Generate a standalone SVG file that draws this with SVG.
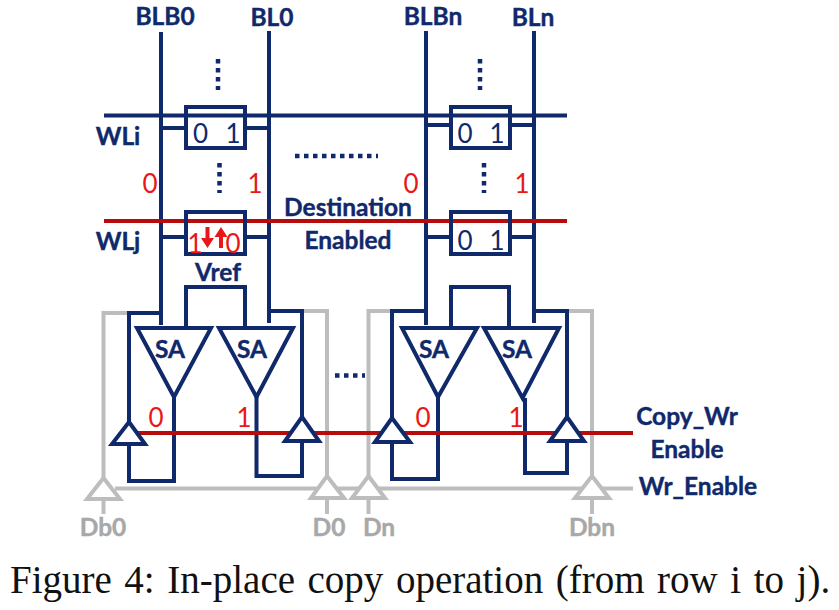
<svg xmlns="http://www.w3.org/2000/svg" width="839" height="610" viewBox="0 0 839 610">
<defs>
<style>
.n{fill:none;stroke:#10296a;stroke-width:4;stroke-linejoin:miter}
.c{fill:#fff;stroke:#10296a;stroke-width:4}
.g{fill:none;stroke:#bdbdbd;stroke-width:4}
.gt{fill:#fff;stroke:#bdbdbd;stroke-width:4}
.r{fill:none;stroke:#b80c0c;stroke-width:4}
.d{fill:none;stroke:#10296a;stroke-width:4.5;stroke-dasharray:4.5 4.5}
text{font-family:"Lato","Liberation Sans",sans-serif;text-anchor:middle}
.b{font-weight:700;font-size:24.500px;fill:#10296a;stroke:#10296a;stroke-width:.4}
.gl{font-weight:700;font-size:24.500px;fill:#a8a8a8;stroke:#a8a8a8;stroke-width:.4}
.v{font-size:26px;fill:#10296a}
.rd{font-size:26px;fill:#e81818}
.cap{font-family:"Liberation Serif",serif;font-size:39px;word-spacing:2.800px;fill:#111;text-anchor:start;stroke:none}
</style>
</defs>
<rect width="839" height="610" fill="#fff"/>
<g id="gray-connectors">
<path class="g" d="M129 313H103.500V480M103.500 499V514"/>
<path class="g" d="M302 311H327V478M327 498V514"/>
<path class="g" d="M392 311H368.500V478M368.500 498V514"/>
<path class="g" d="M567 311H592V478M592 498V514"/>
<path class="g" d="M115 488.500H633"/>
</g>
<g id="connectors">
<path class="n" d="M161 32V325M269 31V323M426 31V325M534 31V323"/>
<path class="n" d="M161 128H186M245 128H269M161 237H186M245 237H269M426 125H450M510 125H534M426 237H450M510 237H534"/>
<path class="n" d="M104 115.500H567"/>
<path class="r" d="M104 221H567"/>
<path class="n" d="M161 313H129V422M129 444V481H174V397"/>
<path class="n" d="M269 311H302V417M302 441V476H256.500V397"/>
<path class="n" d="M426 311H392V418M392 442V479H438V397"/>
<path class="n" d="M534 311H567V417M567 441V473H525V398"/>
<path class="r" d="M137 433H633"/>
<path class="n" d="M186 327V287H245V327M451 327V287H509V327"/>
</g>
<g id="cell-i-0"><path class="n" d="M186 107H245V148H186Z"/><text class="v" x="200.500" y="143">0</text><text class="v" x="233" y="143">1</text></g>
<g id="cell-j-0"><path class="n" d="M186 212H245V254H186Z"/><text class="rd" x="195" y="253">1</text><text class="rd" x="233" y="253">0</text>
<path fill="#e81818" d="M205.500 227h4v11h4.500l-6.500 10l-6.500-10h4.500Z"/><path fill="#e81818" d="M219 248h4v-11h4.500l-6.500-10l-6.500 10h4.500Z"/></g>
<g id="cell-i-n"><path class="n" d="M451 107H510V148H451Z"/><text class="v" x="465" y="143">0</text><text class="v" x="497" y="143">1</text></g>
<g id="cell-j-n"><path class="n" d="M451 212H510V254H451Z"/><text class="v" x="465" y="250">0</text><text class="v" x="497" y="250">1</text></g>
<g id="sa-1"><path class="c" d="M137 328H211L174 397Z"/><text class="b" x="170" y="358">SA</text></g>
<g id="sa-2"><path class="c" d="M219 328H293L256.500 397Z"/><text class="b" x="252" y="358">SA</text></g>
<g id="sa-3"><path class="c" d="M402 328H477L438 397Z"/><text class="b" x="434" y="358">SA</text></g>
<g id="sa-4"><path class="c" d="M484 328H559L522.500 398Z"/><text class="b" x="517" y="358">SA</text></g>
<g id="drv-1"><path class="c" d="M129 422L145 444H112Z"/></g>
<g id="drv-2"><path class="c" d="M302 417L319 441H285Z"/></g>
<g id="drv-3"><path class="c" d="M392 418L410 442H375Z"/></g>
<g id="drv-4"><path class="c" d="M567 417L584 441H550Z"/></g>
<g id="wd-1"><path class="gt" d="M103.500 478L120 499H87Z"/></g>
<g id="wd-2"><path class="gt" d="M327 476L344 498H311Z"/></g>
<g id="wd-3"><path class="gt" d="M368.500 476L385 498H352Z"/></g>
<g id="wd-4"><path class="gt" d="M592 476L609 498H575Z"/></g>
<g id="dots">
<path class="d" d="M218 59V90M219.500 163V193M480 59V90M484 163V193"/>
<path class="d" d="M295 156H378M335 375.500H365"/>
</g>
<g id="labels">
<text class="b" x="165" y="25">BLB0</text>
<text class="b" x="272" y="26">BL0</text>
<text class="b" x="433" y="25">BLBn</text>
<text class="b" x="533" y="26">BLn</text>
<text class="b" x="118" y="145">WLi</text>
<text class="b" x="118" y="250">WLj</text>
<text class="b" x="218" y="281">Vref</text>
<text class="b" x="348" y="216">Destination</text>
<text class="b" x="348" y="249">Enabled</text>
<text class="rd" x="150" y="193">0</text>
<text class="rd" x="255" y="193">1</text>
<text class="rd" x="411" y="193">0</text>
<text class="rd" x="522" y="193">1</text>
<text class="rd" x="156" y="427">0</text>
<text class="rd" x="244" y="427">1</text>
<text class="rd" x="423" y="427">0</text>
<text class="rd" x="516" y="427">1</text>
<text class="gl" x="103" y="536">Db0</text>
<text class="gl" x="329" y="536">D0</text>
<text class="gl" x="379" y="536">Dn</text>
<text class="gl" x="592" y="536">Dbn</text>
<text class="b" x="687" y="425">Copy_Wr</text>
<text class="b" x="687" y="458">Enable</text>
<text class="b" x="698" y="495">Wr_Enable</text>
<text class="cap" x="10" y="593">Figure 4: In-place copy operation (from row i to j).</text>
</g>
</svg>
